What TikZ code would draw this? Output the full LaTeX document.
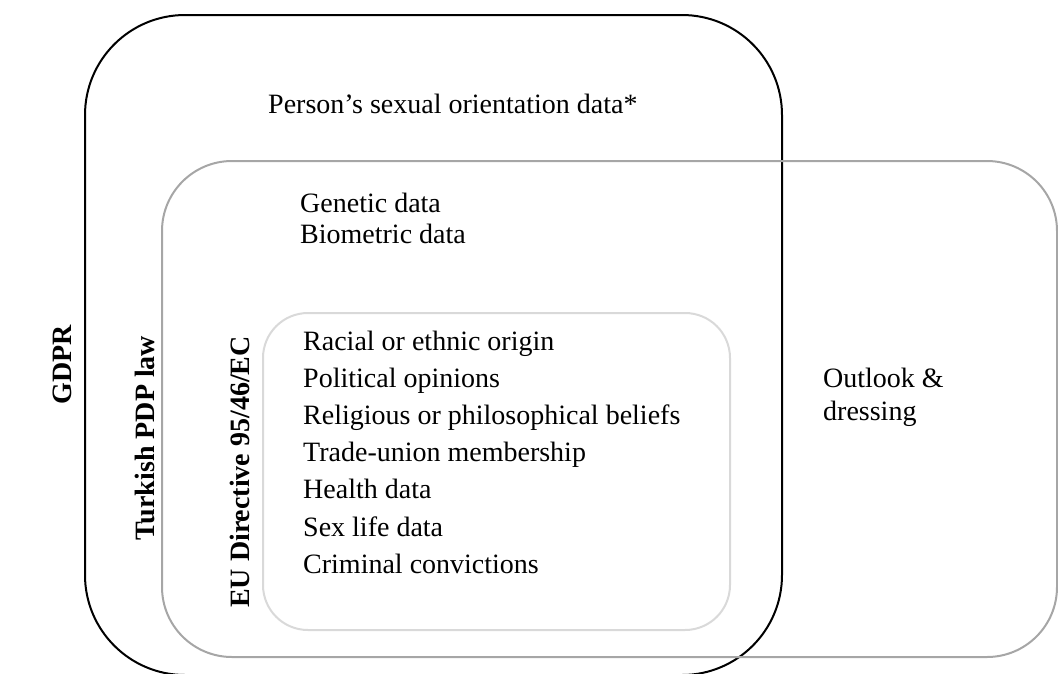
\documentclass[tikz,border=0pt]{standalone}
\usepackage{fontspec}
\setmainfont{Liberation Serif}
\usepackage{xcolor}
\usetikzlibrary{calc}

\definecolor{pdpgray}{HTML}{A6A6A6}
\definecolor{eugray}{HTML}{D9D9D9}

\begin{document}
\begin{tikzpicture}[x=1pt,y=-1pt,
    txt/.style={anchor=base west,inner sep=0pt,font=\fontsize{28}{34}\selectfont},
    lawlabel/.style={rotate=90,inner sep=0pt,font=\fontsize{28}{34}\selectfont\bfseries}]
    \useasboundingbox (0,0) rectangle (1058,673);

    % --- corners of the three regions
    \coordinate (g1) at (85,15);   \coordinate (g2) at (782,675);
    \coordinate (t1) at (162,161); \coordinate (t2) at (1057,657);
    \coordinate (e1) at (263,313); \coordinate (e2) at (730,630);

    % --- regions
    \draw[black,line width=2pt,rounded corners=100pt] (g1) rectangle (g2);
    \draw[pdpgray,line width=2pt,rounded corners=70pt] (t1) rectangle (t2);
    \draw[eugray,line width=2pt,rounded corners=45pt] (e1) rectangle (e2);

    % --- region names
    \node[lawlabel] (gdpr) at (62,365) {GDPR};
    \node[lawlabel] (pdp)  at (145,438) {Turkish PDP law};
    \node[lawlabel] (eu)   at (240,472) {EU Directive 95/46/EC};

    % --- GDPR only
    \node[txt] (sexor) at (268,113) {Person’s sexual orientation data*};

    % --- GDPR and Turkish PDP law
    \node[txt] (gen) at (300,212) {Genetic data};
    \node[txt] (bio) at (300,243) {Biometric data};

    % --- all three
    \foreach \lab [count=\i from 0] in {Racial or ethnic origin,Political opinions,Religious or philosophical beliefs,Trade-union membership,Health data,Sex life data,Criminal convictions}{\node[txt] (cat\i) at (303,350+37.2*\i) {\lab};}

    % --- Turkish PDP law only
    \node[txt] (outl) at (823,387) {Outlook \&};
    \node[txt] (dres) at (823,420) {dressing};
\end{tikzpicture}
\end{document}
